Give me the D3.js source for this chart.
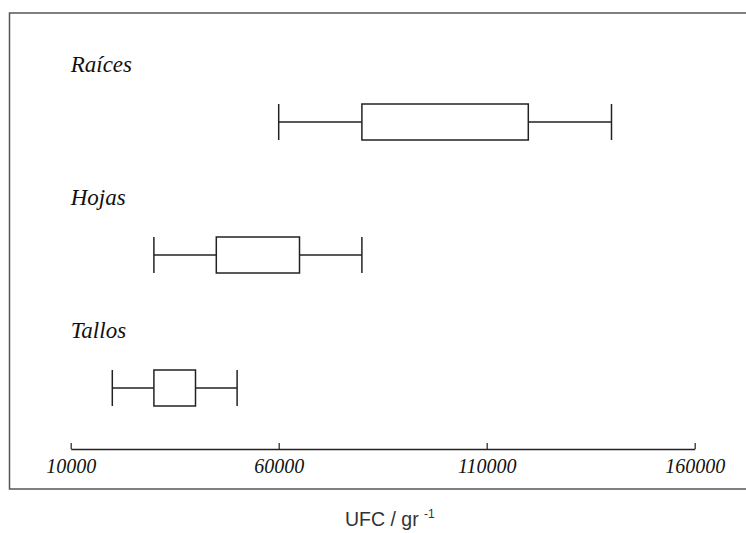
<!DOCTYPE html>
<html>
<head>
<meta charset="utf-8">
<script src="https://cdnjs.cloudflare.com/ajax/libs/d3/7.8.5/d3.min.js"></script>
<style>
  body { margin: 0; background: #fff; }
  .tick text { font-family: "Liberation Serif", "Times New Roman", serif; font-style: italic; }
</style>
</head>
<body>
<div id="chart"></div>
<script>
// data
var categories = ["Raíces", "Hojas", "Tallos"];
var whiskerLow = [60000, 30000, 20000];
var q1 = [80000, 45000, 30000];
var q3 = [120000, 65000, 40000];
var whiskerHigh = [140000, 80000, 50000];
var tickValues = [10000, 60000, 110000, 160000];

var w = 746, h = 533;

var svg = d3.select("#chart")
            .append("svg")
            .attr("width", w)
            .attr("height", h);

// frame (right side runs off the picture)
svg.append("rect")
   .attr("x", 9.5)
   .attr("y", 13)
   .attr("width", 760)
   .attr("height", 476)
   .attr("fill", "none")
   .attr("stroke", "#555")
   .attr("stroke-width", 1.5);

// scales
var xScale = d3.scaleLinear()
               .domain([10000, 160000])
               .range([70.7, 694.7]);

var yScale = d3.scalePoint()
               .domain(categories)
               .range([122, 388]);

var boxH = 36;

// axis
var xAxis = d3.axisBottom(xScale)
              .tickValues(tickValues)
              .tickSizeInner(-6)
              .tickSizeOuter(0)
              .tickPadding(9.5)
              .tickFormat(d3.format("d"));

var gx = svg.append("g")
            .attr("transform", "translate(0,449)")
            .call(xAxis);
gx.select(".domain").attr("stroke", "#222").attr("stroke-width", 1.5);
gx.selectAll(".tick line").attr("stroke", "#222").attr("stroke-width", 1.2);
gx.selectAll(".tick text")
  .attr("font-size", 20)
  .attr("fill", "#111");

// boxes
var rows = categories.map(function(c, i) {
  return {name: c, lo: whiskerLow[i], q1: q1[i], q3: q3[i], hi: whiskerHigh[i]};
});

var g = svg.append("g")
           .selectAll("g")
           .data(rows)
           .enter()
           .append("g");

g.append("line")
 .attr("x1", (d) => xScale(d.lo))
 .attr("x2", (d) => xScale(d.q1))
 .attr("y1", (d) => yScale(d.name))
 .attr("y2", (d) => yScale(d.name));

g.append("line")
 .attr("x1", (d) => xScale(d.q3))
 .attr("x2", (d) => xScale(d.hi))
 .attr("y1", (d) => yScale(d.name))
 .attr("y2", (d) => yScale(d.name));

g.append("line")
 .attr("x1", (d) => xScale(d.lo))
 .attr("x2", (d) => xScale(d.lo))
 .attr("y1", (d) => yScale(d.name) - boxH / 2)
 .attr("y2", (d) => yScale(d.name) + boxH / 2);

g.append("line")
 .attr("x1", (d) => xScale(d.hi))
 .attr("x2", (d) => xScale(d.hi))
 .attr("y1", (d) => yScale(d.name) - boxH / 2)
 .attr("y2", (d) => yScale(d.name) + boxH / 2);

g.append("rect")
 .attr("x", (d) => xScale(d.q1))
 .attr("y", (d) => yScale(d.name) - boxH / 2)
 .attr("width", (d) => xScale(d.q3) - xScale(d.q1))
 .attr("height", boxH)
 .attr("fill", "#fff");

g.selectAll("line, rect")
 .attr("stroke", "#222")
 .attr("stroke-width", 1.5);

// category labels
g.append("text")
 .attr("x", xScale(10000))
 .attr("y", (d) => yScale(d.name) - 50)
 .attr("font-family", "Liberation Serif, Times New Roman, serif")
 .attr("font-style", "italic")
 .attr("font-size", 23)
 .attr("fill", "#111")
 .text((d) => d.name);

// x title
var title = svg.append("text")
               .attr("x", 345)
               .attr("y", 526)
               .attr("font-family", "Liberation Sans, Arial, sans-serif")
               .attr("font-size", 19.5)
               .attr("fill", "#333");
title.append("tspan").text("UFC / gr ");
title.append("tspan")
     .attr("font-size", 12)
     .attr("dy", -8)
     .text("-1");
</script>
</body>
</html>
